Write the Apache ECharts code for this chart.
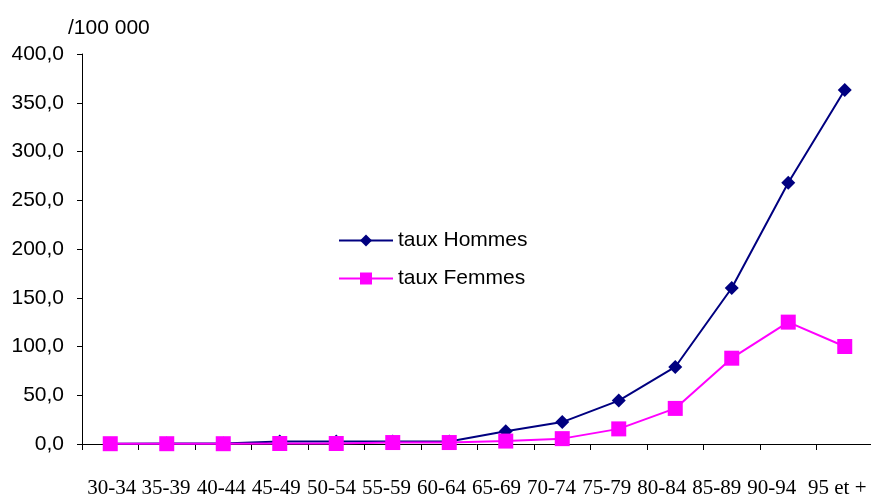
<!DOCTYPE html>
<html>
<head>
<meta charset="utf-8">
<script src="https://cdn.jsdelivr.net/npm/echarts@6/dist/echarts.min.js"></script>
<style>
  html, body { margin: 0; padding: 0; background: #fff; }
  #chart { width: 871px; height: 498px; }
</style>
</head>
<body>
<div id="chart"></div>
<script>
// Age groups
const categories = ['30-34', '35-39', '40-44', '45-49', '50-54', '55-59', '60-64',
  '65-69', '70-74', '75-79', '80-84', '85-89', '90-94', '95 et +'];

// Rates per 100 000
const tauxHommes = [0.3, 0.5, 0.5, 2.5, 2.5, 2.5, 2.5, 13, 22.5, 44.5, 79, 160, 268, 363];
const tauxFemmes = [0.3, 0.3, 0.3, 0.5, 0.5, 1.5, 1.5, 3, 5.5, 15.5, 36.5, 88, 125, 100];

// Y axis tick labels
const yTicks = [0, 50, 100, 150, 200, 250, 300, 350, 400];

const SANS = '"Liberation Sans", Arial, sans-serif';
const SERIF = '"Liberation Serif", "Times New Roman", serif';

// Category labels sit on a slightly tighter pitch than the categories themselves;
// horizontal nudge (px) per label, applied through asymmetric padding.
const labelNudge = [1.5, -0.7, -1.9, -3.4, -4.8, -6.3, -7.8, -9.2, -10.7, -12.1, -13.6, -15.1, -16.5, -7.5];

const xData = categories.map((c, i) => {
  const d = labelNudge[i];
  const pad = d >= 0 ? [0, 0, 0, 2 * d] : [0, -2 * d, 0, 0];
  return { value: c, textStyle: { padding: pad } };
});

const chart = echarts.init(document.getElementById('chart'));

chart.setOption({
  animation: false,
  backgroundColor: '#ffffff',
  // plot area runs slightly past the right edge of the canvas
  grid: { left: 82, width: 791, top: 54, bottom: 54, outerBoundsMode: 'none', containLabel: false },
  graphic: [{
    type: 'text',
    left: 68,
    top: 18,
    style: { text: '/100 000', font: '21px ' + SANS, fill: '#000' }
  }],
  legend: {
    orient: 'vertical',
    left: 333,
    top: 225,
    itemWidth: 54,
    itemHeight: 15,
    itemGap: 17,
    textStyle: { fontFamily: SANS, fontSize: 21, color: '#000' },
    data: ['taux Hommes', 'taux Femmes']
  },
  xAxis: {
    type: 'category',
    data: xData,
    boundaryGap: true,
    axisLine: { lineStyle: { color: '#000', width: 1 } },
    axisTick: { show: true, length: 6, lineStyle: { color: '#000' } },
    axisLabel: {
      interval: 0,
      margin: 34,
      color: '#000',
      fontFamily: SERIF,
      fontSize: 21
    }
  },
  yAxis: {
    type: 'value',
    min: 0,
    max: 400,
    interval: 50,
    axisLine: { show: true, lineStyle: { color: '#000', width: 1 } },
    axisTick: { show: true, inside: false, length: 5, lineStyle: { color: '#000' } },
    splitLine: { show: false },
    axisLabel: {
      margin: 18,
      color: '#000',
      fontFamily: SANS,
      fontSize: 21,
      customValues: yTicks,
      formatter: v => v.toFixed(1).replace('.', ',')
    }
  },
  series: [
    {
      name: 'taux Hommes',
      type: 'line',
      data: tauxHommes,
      symbol: 'diamond',
      symbolSize: 14,
      color: '#000080',
      lineStyle: { color: '#000080', width: 2 },
      itemStyle: { color: '#000080' },
      z: 2
    },
    {
      name: 'taux Femmes',
      type: 'line',
      data: tauxFemmes,
      symbol: 'rect',
      symbolSize: 15,
      color: '#ff00ff',
      lineStyle: { color: '#ff00ff', width: 2 },
      itemStyle: { color: '#ff00ff' },
      z: 3
    }
  ]
});
</script>
</body>
</html>
